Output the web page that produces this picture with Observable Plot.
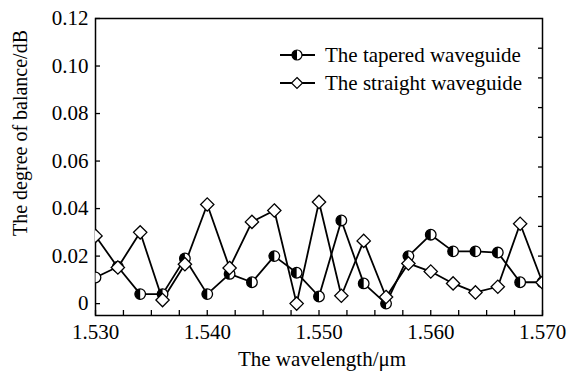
<!DOCTYPE html>
<html><head><meta charset="utf-8">
<script src="https://cdn.jsdelivr.net/npm/d3@7"></script>
<script src="https://cdn.jsdelivr.net/npm/@observablehq/plot@0.6"></script>
<style>
body{margin:0;background:#fff}
#wrap{position:relative;width:571px;height:372px;font-family:"Liberation Serif","DejaVu Serif",serif}
#legend{position:absolute;left:0;top:0}
</style>
</head><body><div id="wrap"></div>
<script>
const wavelengths = [1.530,1.532,1.534,1.536,1.538,1.540,1.542,1.544,1.546,1.548,1.550,1.552,1.554,1.556,1.558,1.560,1.562,1.564,1.566,1.568,1.570];
const tapered  = [0.011,0.0155,0.004,0.004,0.019,0.004,0.0125,0.009,0.020,0.013,0.003,0.035,0.0085,0.000,0.020,0.029,0.022,0.022,0.0215,0.009,0.009];
const straight = [0.0285,0.0152,0.030,0.0015,0.0166,0.0417,0.015,0.0344,0.0392,0.000,0.0428,0.0033,0.0264,0.0028,0.0169,0.0135,0.0085,0.0047,0.0071,0.0336,0.0089];
const xTickLabels = [1.530,1.540,1.550,1.560,1.570];
const xMinorTicks = [1.530,1.5325,1.535,1.5375,1.540,1.5425,1.545,1.5475,1.550,1.5525,1.555,1.5575,1.560,1.5625,1.565,1.5675,1.570];
const yTickLabels = [0,0.02,0.04,0.06,0.08,0.10,0.12];
const yRightTicks = [0.0075,0.02,0.0325,0.045,0.0575,0.07,0.0825,0.095,0.1075];
const seriesNames = ["The tapered waveguide","The straight waveguide"];
const xTitle = "The wavelength/\u03bcm";
const yTitle = "The degree of balance/dB";

const rows = wavelengths.map((w,i)=>({w, tapered: tapered[i], straight: straight[i]}));

const halfLeft = {draw(ctx, size){const r=Math.sqrt(size/Math.PI); ctx.moveTo(0,-r); ctx.arc(0,0,r,-Math.PI/2,Math.PI/2,true); ctx.closePath();}};
const FS = 21;

const chart = Plot.plot({
  width: 571, height: 372,
  marginLeft: 95, marginRight: 29, marginTop: 18, marginBottom: 57,
  style: {fontFamily: '"Liberation Serif", serif', fontSize: FS + "px", background: "white", color: "black"},
  x: {domain: [1.530, 1.570]},
  y: {domain: [-0.005, 0.12]},
  marks: [
    Plot.frame({stroke: "black", strokeWidth: 1.5}),
    Plot.axisX(xTickLabels, {tickSize: 0, tickPadding: 9, tickFormat: d3.format(".3f"), fontSize: FS, label: null}),
    Plot.axisX(xMinorTicks, {tickSize: -5, tickFormat: () => "", label: null, strokeWidth: 1.3}),
    Plot.axisY(yTickLabels, {tickSize: 0, tickPadding: 7, tickFormat: d => d === 0 ? "0" : d3.format(".2f")(d), fontSize: FS, label: null}),
    Plot.axisY(yTickLabels, {tickSize: -5, tickFormat: () => "", label: null, strokeWidth: 1.3}),
    Plot.axisY(yRightTicks, {anchor: "right", tickSize: -5, tickFormat: () => "", label: null, strokeWidth: 1.3}),
    Plot.text([xTitle], {frameAnchor: "bottom", text: d => d, dx: 3, dy: 44, fontSize: FS, lineAnchor: "middle"}),
    Plot.text([yTitle], {frameAnchor: "left", text: d => d, dx: -75, dy: -34, rotate: -90, fontSize: 20, textAnchor: "middle", lineAnchor: "middle"}),
    Plot.line(rows, {x: "w", y: "tapered", stroke: "black", strokeWidth: 1.8, clip: true}),
    Plot.line(rows, {x: "w", y: "straight", stroke: "black", strokeWidth: 1.8, clip: true}),
    Plot.dot(rows, {x: "w", y: "tapered", r: 5.3, fill: "white", stroke: "black", strokeWidth: 1.3, clip: true}),
    Plot.dot(rows, {x: "w", y: "tapered", r: 5.3, symbol: halfLeft, fill: "black", stroke: "none", clip: true}),
    Plot.dot(rows, {x: "w", y: "straight", r: 6, symbol: "diamond2", fill: "white", stroke: "black", strokeWidth: 1.3, clip: true})
  ]
});
const wrap = document.getElementById("wrap");
wrap.appendChild(chart);

// legend overlay
const ns = "http://www.w3.org/2000/svg";
const lg = document.createElementNS(ns, "svg");
lg.setAttribute("id", "legend");
lg.setAttribute("width", 571); lg.setAttribute("height", 372);
const rowsY = [55, 83];
let html = "";
seriesNames.forEach((name, i) => {
  const y = rowsY[i];
  html += `<line x1="280" x2="315" y1="${y}" y2="${y}" stroke="black" stroke-width="1.8"/>`;
  if (i === 0) {
    html += `<circle cx="297" cy="${y}" r="5" fill="white" stroke="black" stroke-width="1.2"/>`;
    html += `<path d="M297,${y-5} A5,5 0 0 0 297,${y+5} Z" fill="black"/>`;
  } else {
    html += `<path d="M297,${y-5.5} L302.5,${y} L297,${y+5.5} L291.5,${y} Z" fill="white" stroke="black" stroke-width="1.2"/>`;
  }
  html += `<text x="325" y="${y}" dy="0.35em" font-family="Liberation Serif, serif" font-size="${FS}">${name}</text>`;
});
lg.innerHTML = html;
wrap.appendChild(lg);
</script>
</body></html>
